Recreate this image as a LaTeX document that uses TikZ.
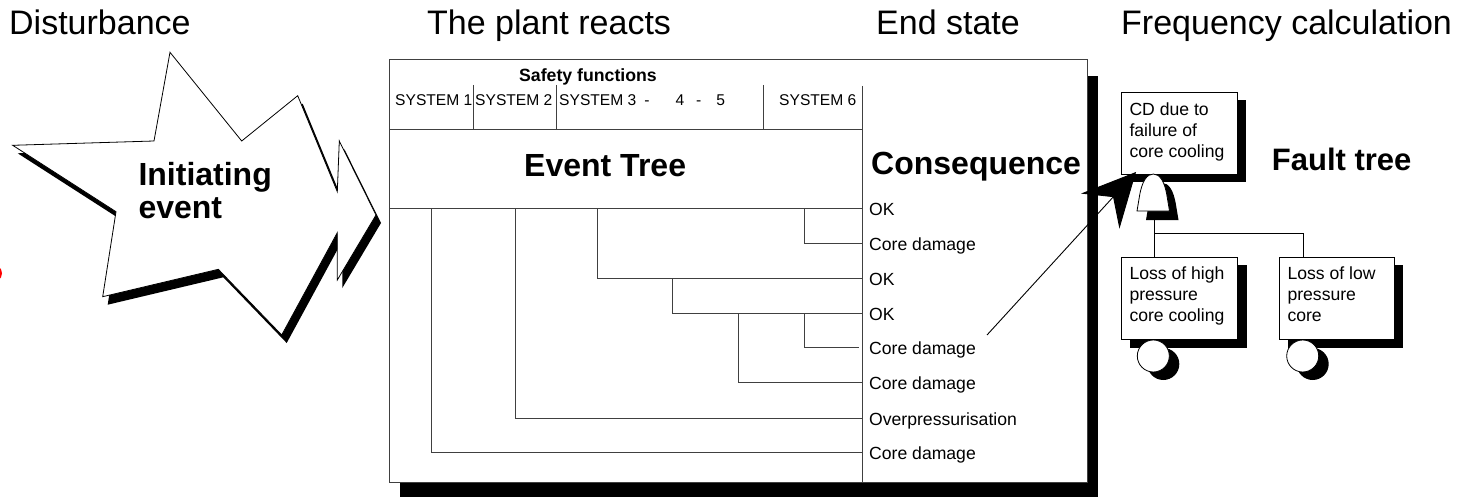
\documentclass[tikz,border=0pt]{standalone}
\usepackage{fontspec}
\setmainfont{Liberation Sans}
\usetikzlibrary{arrows.meta,shadows}
\begin{document}
\begin{tikzpicture}[x=1pt,y=-1pt,
  ttl/.style={inner sep=0,anchor=base west,font=\fontsize{34}{40}\selectfont},
  big/.style={inner sep=0,anchor=base west,font=\fontsize{32}{33}\selectfont\bfseries},
  sml/.style={inner sep=0,anchor=base west,font=\fontsize{17.6}{21}\selectfont},
  sys/.style={inner sep=0,anchor=base west,font=\fontsize{15.6}{18}\selectfont},
  tline/.style={draw=black!75,line width=1pt},
  ftbox/.style={draw=black,line width=0.9pt,fill=white,inner sep=0,anchor=north west,
    drop shadow={shadow xshift=9pt,shadow yshift=-8pt,opacity=1,fill=black,draw=none}},
]
\useasboundingbox (0,0) rectangle (1474,497);

% red sliver at left edge
\fill[red] (-10,273.3) ellipse (12 and 10);

% titles
\node[ttl] (t1) at (9,35) {Disturbance};
\node[ttl] (t2) at (427,35) {The plant reacts};
\node[ttl] (t3) at (876,35) {End state};
\node[ttl] (t4) at (1121,35) {Frequency calculation};

% initiating event star
\fill[black,shift={(5,8)}] (12.7,145.3) -- (154,141) -- (170,52.3) -- (241.7,141) -- (297.7,95.7)
  -- (337.3,191.7) -- (339.3,141) -- (376,215) -- (337.3,280) -- (337.3,232.7) -- (281.7,335)
  -- (218.3,269.3) -- (102.7,296.7) -- (116,211.7) -- cycle;
\draw[fill=white,line width=0.8pt] (12.7,145.3) -- (154,141) -- (170,52.3) -- (241.7,141) -- (297.7,95.7)
  -- (337.3,191.7) -- (339.3,141) -- (376,215) -- (337.3,280) -- (337.3,232.7) -- (281.7,335)
  -- (218.3,269.3) -- (102.7,296.7) -- (116,211.7) -- cycle;
\node[big,align=left] (ie) at (138.3,218.3) {Initiating\\event};

% event tree main box
\node[draw=black!75,fill=white,line width=1pt,inner sep=0,anchor=north west,
  minimum width=698pt,minimum height=423pt,
  drop shadow={shadow xshift=10pt,shadow yshift=-17pt,opacity=1,fill=black,draw=none}]
  (et) at (389,59) {};

% header rows
\draw[tline] (389,129.3) -- (862.3,129.3);
\draw[tline] (389,208.3) -- (862.3,208.3);
\draw[tline] (862.3,86) -- (862.3,482);
\draw[tline] (473.7,85) -- (473.7,129.3);
\draw[tline] (556.3,85) -- (556.3,129.3);
\draw[tline] (763.3,85) -- (763.3,129.3);

\node[inner sep=0,anchor=base,font=\fontsize{17.7}{20}\selectfont\bfseries] (sf) at (588,81.7) {Safety functions};
\node[sys] (s1) at (395,106) {SYSTEM 1};
\node[sys] (s2) at (475,106) {SYSTEM 2};
\node[sys] (s3) at (559,106) {SYSTEM 3\hspace{8pt}-\hspace{26pt}4\hspace{12pt}-\hspace{15pt}5};
\node[sys] (s6) at (779,106) {SYSTEM 6};

\node[big] (evt) at (524,176.7) {Event Tree};
\node[big] (cons) at (871,175) {Consequence};

% tree branches
\draw[tline] (431.7,208.3) |- (862.3,452.7);
\draw[tline] (515,208.3) |- (862.3,418);
\draw[tline] (597.7,208.3) |- (862.3,278.3);
\draw[tline] (804.7,208.3) |- (862.3,243.3);
\draw[tline] (672.3,278.3) |- (862.3,313);
\draw[tline] (738.7,313) |- (862.3,382.3);
\draw[tline] (804.7,313) |- (859,347.3);

% end states
\node[sml] (c1) at (869,215.3) {OK};
\node[sml] (c2) at (869,250.3) {Core damage};
\node[sml] (c3) at (869,285.3) {OK};
\node[sml] (c4) at (869,320) {OK};
\node[sml] (c5) at (869,354.3) {Core damage};
\node[sml] (c6) at (869,389.3) {Core damage};
\node[sml] (c7) at (869,425) {Overpressurisation};
\node[sml] (c8) at (869,459.7) {Core damage};

% fault tree
\node[ftbox,minimum width=115.7pt,minimum height=82.3pt] (cd) at (1121,91.7) {};
\node[sml,align=left] (cdt) at (1129.3,157.3) {CD due to\\failure of\\core cooling};
\node[big,font=\fontsize{31}{33}\selectfont\bfseries] (ft) at (1271.7,170.7) {Fault tree};

% OR gate with shadow
\fill[black,shift={(9,9)}] (1137,211) -- (1139.5,196) .. controls (1142,181) and (1147,174) .. (1153.3,174)
  .. controls (1159.6,174) and (1164.6,181) .. (1167,196) -- (1169.5,211) -- cycle;
\draw[fill=white,line width=0.8pt] (1137,211) -- (1139.5,196) .. controls (1142,181) and (1147,174) .. (1153.3,174)
  .. controls (1159.6,174) and (1164.6,181) .. (1167,196) -- (1169.5,211) -- cycle;
\coordinate (gb) at (1154.3,220);
\coordinate (j) at (1154.3,233);

\node[ftbox,minimum width=116.3pt,minimum height=82.6pt] (hp) at (1121,256.7) {};
\node[ftbox,minimum width=115.3pt,minimum height=82.6pt] (lp) at (1278.7,256.7) {};
\coordinate (lpin) at (1303.3,256.7);
\draw[line width=0.9pt] (gb) -- (gb |- hp.north);
\draw[line width=0.9pt] (j) -| (lpin);
\node[sml,align=left] (hpt) at (1129.3,321.7) {Loss of high\\pressure\\core cooling};
\node[sml,align=left] (lpt) at (1287.3,321.7) {Loss of low\\pressure\\core};

% basic event circles
\fill[black] (1163.3,364) circle (16);
\draw[fill=white,line width=0.8pt] (1153.3,356) circle (16);
\fill[black] (1312.7,364) circle (16);
\draw[fill=white,line width=0.8pt] (1302.7,356) circle (16);

% arrow from end state to fault tree top event
\coordinate (astart) at (987,335);
\coordinate (atip) at (1136,172);
\draw[line width=0.9pt,-{Stealth[length=53pt,width=52pt,inset=19pt]}] (astart) -- (atip);
\end{tikzpicture}
\end{document}
